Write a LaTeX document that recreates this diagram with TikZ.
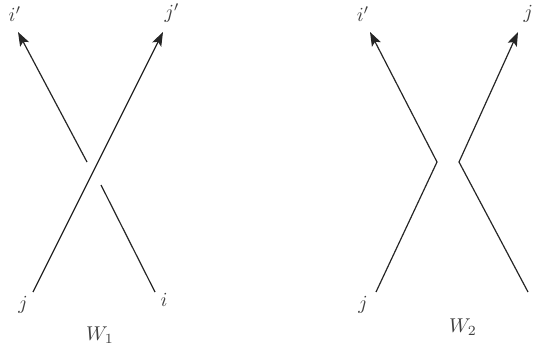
\documentclass[tikz,border=0pt]{standalone}
\usetikzlibrary{arrows.meta}
\tikzset{
  >={Stealth[length=7pt,width=5pt,inset=1.5pt]},
  strand/.style={line width=0.6pt,black!85},
  lab/.style={inner sep=0pt,font=\normalsize,text=black!75},
}
\begin{document}
\begin{tikzpicture}[x=0.5pt,y=-0.5pt]
  \useasboundingbox (0,0) rectangle (533,352);
  % W_1: the two strands cross, i passes under j
  \coordinate (jA) at (33,292);
  \coordinate (jAtop) at (163,32);
  \coordinate (iA) at (155,292);
  \coordinate (iAlow) at (101,185);
  \coordinate (iAup) at (87,162);
  \coordinate (iAtop) at (18,32);
  \draw[strand,->] (jA) -- (jAtop);
  \draw[strand] (iA) -- (iAlow);
  \draw[strand,->] (iAup) -- (iAtop);
  % W_2: the two strands bounce back
  \coordinate (jB) at (376,292);
  \coordinate (jBturn) at (437,162);
  \coordinate (iBtop) at (370,32);
  \coordinate (iB) at (528,292);
  \coordinate (iBturn) at (459,162);
  \coordinate (jBtop) at (518,32);
  \draw[strand,->] (jB) -- (jBturn) -- (iBtop);
  \draw[strand,->] (iB) -- (iBturn) -- (jBtop);
  % labels
  \node[lab] (ipA) at (15,14) {$i'$};
  \node[lab] (jpA) at (172,13) {$j'$};
  \node[lab] (jlA) at (23,305) {$j$};
  \node[lab] (ilA) at (164,300) {$i$};
  \node[lab] (wA) at (100,335) {$W_1$};
  \node[lab] (ipB) at (363,14) {$i'$};
  \node[lab] (jpB) at (531,13) {$j'$};
  \node[lab] (jlB) at (363,305) {$j$};
  \node[lab] (wB) at (463,327) {$W_2$};
\end{tikzpicture}
\end{document}
